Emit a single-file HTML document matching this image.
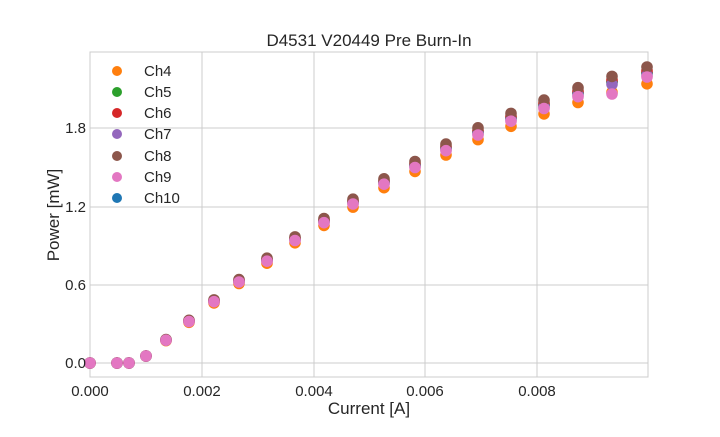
<!DOCTYPE html>
<html><head><meta charset="utf-8"><style>
body{margin:0;background:#fff;}
svg text{font-family:"Liberation Sans",sans-serif;fill:#262626;}
</style></head><body>
<svg id="s" width="720" height="432" xmlns="http://www.w3.org/2000/svg">
<rect width="720" height="432" fill="#fff"/>
<g stroke="#cccccc" stroke-width="1">
<line x1="202" y1="52" x2="202" y2="377"/><line x1="314" y1="52" x2="314" y2="377"/>
<line x1="425" y1="52" x2="425" y2="377"/><line x1="537" y1="52" x2="537" y2="377"/>
<line x1="90" y1="363" x2="648" y2="363"/><line x1="90" y1="285" x2="648" y2="285"/>
<line x1="90" y1="207" x2="648" y2="207"/><line x1="90" y1="128" x2="648" y2="128"/>
<rect x="90" y="52" width="558" height="325" fill="none"/>
</g>
<g id="pts"></g>
<text x="369" y="46" font-size="17" text-anchor="middle">D4531 V20449 Pre Burn-In</text>
<g font-size="15" text-anchor="middle">
<text x="90" y="396">0.000</text><text x="202" y="396">0.002</text><text x="314" y="396">0.004</text><text x="425" y="396">0.006</text><text x="537" y="396">0.008</text>
</g>
<g font-size="15" text-anchor="end">
<text x="86" y="368">0.0</text><text x="86" y="290">0.6</text><text x="86" y="212">1.2</text><text x="86" y="133">1.8</text>
</g>
<text x="369" y="414" font-size="17" text-anchor="middle">Current [A]</text>
<text x="59" y="215" font-size="17" text-anchor="middle" transform="rotate(-90 59 215)">Power [mW]</text>
<g font-size="15">
<circle cx="117" cy="71" r="5" fill="#ff7f0e"/><text x="144" y="76">Ch4</text>
<circle cx="117" cy="92" r="5" fill="#2ca02c"/><text x="144" y="97">Ch5</text>
<circle cx="117" cy="113" r="5" fill="#d62728"/><text x="144" y="118">Ch6</text>
<circle cx="117" cy="134" r="5" fill="#9467bd"/><text x="144" y="139">Ch7</text>
<circle cx="117" cy="156" r="5" fill="#8c564b"/><text x="144" y="161">Ch8</text>
<circle cx="117" cy="177" r="5" fill="#e377c2"/><text x="144" y="182">Ch9</text>
<circle cx="117" cy="198" r="5" fill="#1f77b4"/><text x="144" y="203">Ch10</text>
</g>
</svg>
<script>
var xs=[90,117,129,146,166,189,214,239,267,295,324,353,384,415,446,478,511,544,578,612,647];
var ys=[363,363,363,356,340,321,301,281,260,239,221,202,182,165,148,132,118,105,93,82,73];
var ser=[["#1f77b4",0],["#ff7f0e",0.9],["#2ca02c",0],["#d62728",-0.2],["#9467bd",0.2],["#8c564b",-0.5],["#e377c2",0.35]];
var g=document.getElementById('pts'),h='';
ser.forEach(function(s){xs.forEach(function(x,i){var t=Math.max(0,(i-3)/17);var y=ys[i]+s[1]*12*t;
if(s[0]=="#e377c2"&&i==19)y+=8;if(s[0]=="#e377c2"&&i==20)y=ys[i]+4;
h+='<circle cx="'+x+'" cy="'+y.toFixed(1)+'" r="5.8" fill="'+s[0]+'"/>';});});
g.innerHTML=h;
</script>
</body></html>
